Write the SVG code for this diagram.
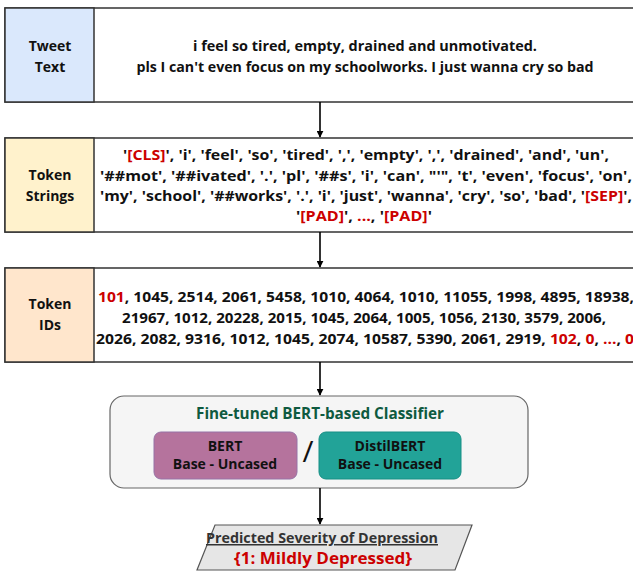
<svg xmlns="http://www.w3.org/2000/svg" width="633" height="575" viewBox="0 0 633 575">
<style>
text{font-family:"Open Sans","Noto Sans","Liberation Sans",sans-serif;font-weight:bold;font-size:15px;fill:#111;text-anchor:middle}
.sm{font-size:14px}
.box{fill:#fff;stroke:#333;stroke-width:1.5}
.r{fill:#cc0000}
.conn{stroke:#000;stroke-width:1.6;fill:none;marker-end:url(#ah)}
</style>
<defs>
<marker id="ah" viewBox="0 0 10 10" refX="9" refY="5" markerWidth="7" markerHeight="7" markerUnits="userSpaceOnUse" orient="auto">
<path d="M0,0 L10,5 L0,10 z" fill="#000"/>
</marker>
</defs>
<rect width="633" height="575" fill="#fff"/>
<g id="tweet">
<rect class="box" x="5" y="8" width="640" height="94"/>
<rect x="5" y="8" width="89" height="94" fill="#dae8fc" stroke="#333" stroke-width="1.5"/>
<text class="sm" x="50" y="51">Tweet</text>
<text class="sm" x="50" y="72">Text</text>
<text x="365" y="51" textLength="344" lengthAdjust="spacingAndGlyphs">i feel so tired, empty, drained and unmotivated.</text>
<text x="365" y="72" textLength="457" lengthAdjust="spacingAndGlyphs">pls I can't even focus on my schoolworks. I just wanna cry so bad</text>
</g>
<g id="tokens">
<rect class="box" x="5" y="138" width="640" height="94"/>
<rect x="5" y="138" width="89" height="94" fill="#fff2cc" stroke="#333" stroke-width="1.5"/>
<text class="sm" x="50" y="180">Token</text>
<text class="sm" x="50" y="201">Strings</text>
<text x="366" y="160" textLength="486" lengthAdjust="spacingAndGlyphs">'<tspan class="r">[CLS]</tspan>', 'i', 'feel', 'so', 'tired', ',', 'empty', ',', 'drained', 'and', 'un',</text>
<text x="366" y="181" textLength="532" lengthAdjust="spacingAndGlyphs">'##mot', '##ivated', '.', 'pl', '##s', 'i', 'can', "'", 't', 'even', 'focus', 'on',</text>
<text x="366" y="201" textLength="532" lengthAdjust="spacingAndGlyphs">'my', 'school', '##works', '.', 'i', 'just', 'wanna', 'cry', 'so', 'bad', '<tspan class="r">[SEP]</tspan>',</text>
<text x="364" y="221" textLength="136" lengthAdjust="spacingAndGlyphs">'<tspan class="r">[PAD]</tspan>', <tspan class="r">...</tspan>, '<tspan class="r">[PAD]</tspan>'</text>
</g>
<g id="ids">
<rect class="box" x="5" y="268" width="640" height="94"/>
<rect x="5" y="268" width="89" height="94" fill="#ffe6cc" stroke="#333" stroke-width="1.5"/>
<text class="sm" x="50" y="309">Token</text>
<text class="sm" x="50" y="330">IDs</text>
<text x="366" y="302" textLength="536" lengthAdjust="spacingAndGlyphs"><tspan class="r">101</tspan>, 1045, 2514, 2061, 5458, 1010, 4064, 1010, 11055, 1998, 4895, 18938,</text>
<text x="364" y="323" textLength="484" lengthAdjust="spacingAndGlyphs">21967, 1012, 20228, 2015, 1045, 2064, 1005, 1056, 2130, 3579, 2006,</text>
<text x="365" y="344" textLength="538" lengthAdjust="spacingAndGlyphs">2026, 2082, 9316, 1012, 1045, 2074, 10587, 5390, 2061, 2919, <tspan class="r">102</tspan>, <tspan class="r">0</tspan>, <tspan class="r">...</tspan>, <tspan class="r">0</tspan></text>
</g>
<g id="classifier">
<rect x="110" y="396" width="418" height="92" rx="14" fill="#f5f5f5" stroke="#666" stroke-width="1.2"/>
<text x="320" y="419" style="fill:#0e5a40;font-size:16px" textLength="248" lengthAdjust="spacingAndGlyphs">Fine-tuned BERT-based Classifier</text>
</g>
<g id="bert">
<rect x="154" y="432" width="143" height="47" rx="7" fill="#b5739d" stroke="#9673a6" stroke-width="1"/>
<text class="sm" x="225" y="451">BERT</text>
<text class="sm" x="225" y="469">Base - Uncased</text>
</g>
<text x="308" y="462" style="font-size:30px;font-weight:normal">/</text>
<g id="distilbert">
<rect x="319" y="432" width="142" height="47" rx="7" fill="#22a398" stroke="#168f85" stroke-width="1"/>
<text class="sm" x="390" y="451">DistilBERT</text>
<text class="sm" x="390" y="469">Base - Uncased</text>
</g>
<g id="output">
<polygon points="215,525 472,525 455,570 197,570" fill="#e6e6e6" stroke="#555" stroke-width="1.2"/>
<text x="322" y="543" style="fill:#333;text-decoration:underline;font-size:15px" textLength="232" lengthAdjust="spacingAndGlyphs">Predicted Severity of Depression</text>
<text x="323" y="564" class="r" style="font-size:16px" textLength="178" lengthAdjust="spacingAndGlyphs">{1: Mildly Depressed}</text>
</g>
<g id="connectors">
<line class="conn" x1="320" y1="102" x2="320" y2="137"/>
<line class="conn" x1="320" y1="232" x2="320" y2="267"/>
<line class="conn" x1="320" y1="362" x2="320" y2="395"/>
<line class="conn" x1="320" y1="488" x2="320" y2="524"/>
</g>
</svg>
